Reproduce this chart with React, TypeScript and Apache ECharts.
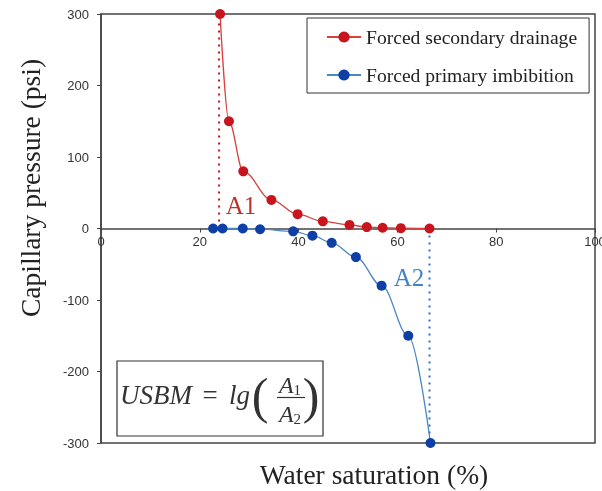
import React, { useEffect, useRef } from "react";
import * as echarts from "echarts";

const drainageSw = [24.1, 25.9, 28.8, 34.5, 39.8, 44.9, 50.3, 53.8, 57.0, 60.7, 66.5];
const drainagePc = [300, 150, 80, 40, 20, 10, 5, 2, 1, 0.5, 0];
const imbibitionSw = [22.7, 24.6, 28.7, 32.2, 38.9, 42.8, 46.7, 51.6, 56.8, 62.2, 66.7];
const imbibitionPc = [0, 0, 0, -1, -4, -10, -20, -40, -80, -150, -300];
const a1Line = [[23.9, 0], [23.9, 300]];
const a2Line = [[66.5, 0], [66.5, -300]];
const seriesNames = ["Forced secondary drainage", "Forced primary imbibition"];

const RED_M = "#c8141c";
const RED_L = "#d8403c";
const BLUE_M = "#0d3fa6";
const BLUE_L = "#4a86c8";
const AXIS = "#444";

export default function App() {
  const ref = useRef<HTMLDivElement>(null);
  useEffect(() => {
    if (!ref.current) return;
    const chart = echarts.init(ref.current, undefined, { renderer: "svg" });
    const zip = (xs: number[], ys: number[]) => xs.map((x, i) => [x, ys[i]]);
    chart.setOption({
      animation: false,
      grid: {
        left: 101, width: 494, top: 14, height: 429,
        containLabel: false, outerBoundsMode: "none",
        show: true, borderColor: AXIS, borderWidth: 1.5,
      },
      xAxis: {
        type: "value", min: 0, max: 100, interval: 20,
        position: "bottom", offset: -214.5,
        axisLine: { onZero: false, lineStyle: { color: AXIS, width: 1.5 } },
        axisTick: { show: true, length: 4, lineStyle: { color: AXIS } },
        axisLabel: { color: "#333", fontSize: 13, fontFamily: "Liberation Sans", margin: 6 },
        splitLine: { show: false },
      },
      yAxis: {
        type: "value", min: -300, max: 300, interval: 100,
        axisLine: { show: true, lineStyle: { color: AXIS, width: 1.5 } },
        axisTick: { show: true, length: 4, lineStyle: { color: AXIS } },
        axisLabel: { color: "#333", fontSize: 13, fontFamily: "Liberation Sans", margin: 12 },
        splitLine: { show: false },
      },
      legend: {
        data: seriesNames,
        orient: "vertical",
        left: 307, top: 18,
        padding: [9, 12, 8, 19],
        itemWidth: 34, itemHeight: 14, itemGap: 18,
        borderColor: "#333", borderWidth: 1, backgroundColor: "#fff",
        textStyle: { fontFamily: "Liberation Serif", fontSize: 19.6, color: "#222", lineHeight: 20 },
      },
      series: [
        {
          name: seriesNames[0], type: "line", data: zip(drainageSw, drainagePc),
          smooth: 0.35, smoothMonotone: "x",
          symbol: "circle", symbolSize: 10,
          itemStyle: { color: RED_M }, lineStyle: { color: RED_L, width: 1.3 },
          z: 3,
        },
        {
          name: seriesNames[1], type: "line", data: zip(imbibitionSw, imbibitionPc),
          smooth: 0.35, smoothMonotone: "x",
          symbol: "circle", symbolSize: 10,
          itemStyle: { color: BLUE_M }, lineStyle: { color: BLUE_L, width: 1.3 },
          z: 3,
        },
        {
          type: "line", data: a1Line, symbol: "none",
          lineStyle: { color: RED_M, width: 2, type: [2, 5] }, z: 2,
        },
        {
          type: "line", data: a2Line, symbol: "none",
          lineStyle: { color: "#2f6fc0", width: 2, type: [2, 5] }, z: 2,
        },
      ],
      graphic: [
        {
          type: "text", x: 30, y: 188, rotation: Math.PI / 2,
          style: {
            text: "Capillary pressure (psi)", font: "27.5px 'Liberation Serif'",
            fill: "#222", align: "center", verticalAlign: "middle",
          },
        },
        {
          type: "text", x: 374, y: 474,
          style: {
            text: "Water saturation (%)", font: "27.5px 'Liberation Serif'",
            fill: "#222", align: "center", verticalAlign: "middle",
          },
        },
        {
          type: "text", x: 241, y: 205,
          style: { text: "A1", font: "25px 'Liberation Serif'", fill: "#c0302a", align: "center", verticalAlign: "middle" },
        },
        {
          type: "text", x: 409, y: 277,
          style: { text: "A2", font: "25px 'Liberation Serif'", fill: "#3f84c6", align: "center", verticalAlign: "middle" },
        },
        {
          type: "rect", shape: { x: 117, y: 361, width: 206, height: 75 },
          style: { fill: "#fff", stroke: "#333", lineWidth: 1.2 },
        },
        {
          type: "text", x: 120, y: 395,
          style: { text: "USBM", font: "italic 27px 'Liberation Serif'", fill: "#333", verticalAlign: "middle" },
        },
        {
          type: "text", x: 210, y: 395,
          style: { text: "=", font: "27px 'Liberation Serif'", fill: "#333", align: "center", verticalAlign: "middle" },
        },
        {
          type: "text", x: 229, y: 395,
          style: { text: "lg", font: "italic 27px 'Liberation Serif'", fill: "#333", verticalAlign: "middle" },
        },
        {
          type: "text", x: 260, y: 396,
          style: { text: "(", font: "50px 'Liberation Serif'", fill: "#333", align: "center", verticalAlign: "middle" },
        },
        {
          type: "text", x: 311, y: 396,
          style: { text: ")", font: "50px 'Liberation Serif'", fill: "#333", align: "center", verticalAlign: "middle" },
        },
        {
          type: "text", x: 290, y: 385,
          style: {
            text: "{i|A}{s|1}", align: "center", verticalAlign: "middle",
            rich: {
              i: { font: "italic 24px 'Liberation Serif'", fill: "#333" },
              s: { font: "15px 'Liberation Serif'", fill: "#333", padding: [10, 0, 0, 0] },
            },
          },
        },
        {
          type: "line", shape: { x1: 277, y1: 397.5, x2: 305, y2: 397.5 },
          style: { stroke: "#333", lineWidth: 1.2 },
        },
        {
          type: "text", x: 290, y: 414,
          style: {
            text: "{i|A}{s|2}", align: "center", verticalAlign: "middle",
            rich: {
              i: { font: "italic 24px 'Liberation Serif'", fill: "#333" },
              s: { font: "15px 'Liberation Serif'", fill: "#333", padding: [10, 0, 0, 0] },
            },
          },
        },
      ],
    });
    return () => chart.dispose();
  }, []);
  return <div ref={ref} style={{ width: 602, height: 491, position: "fixed", left: 0, top: 0 }} />;
}
